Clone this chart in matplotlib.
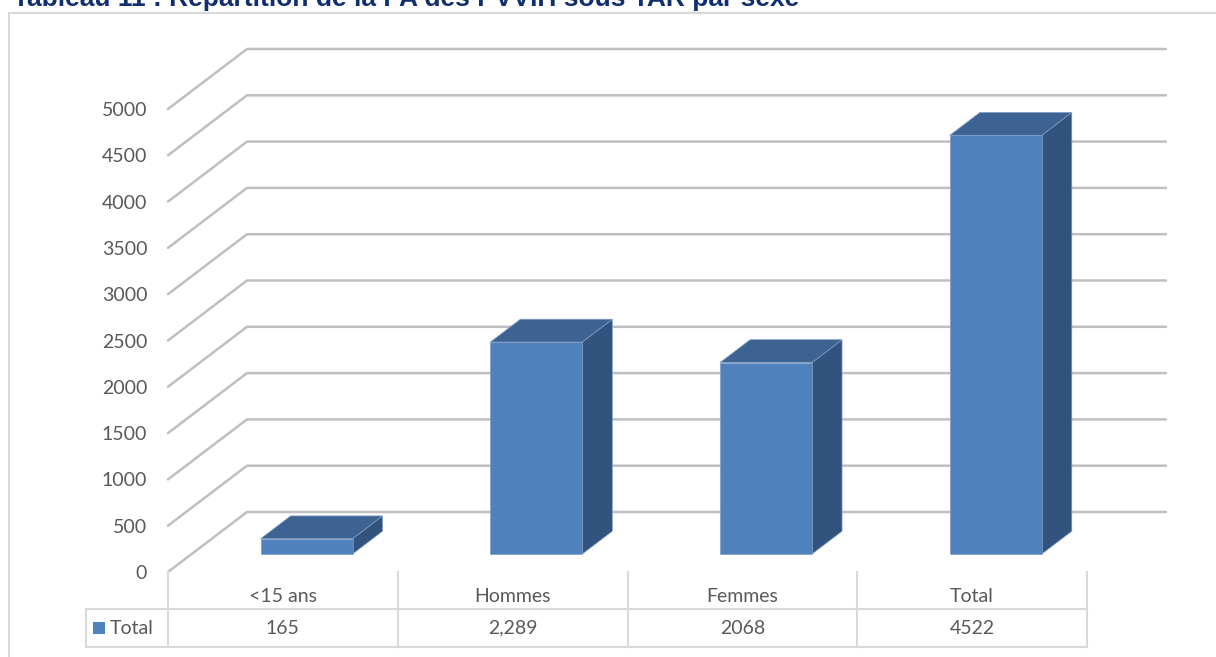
import matplotlib
matplotlib.use('Agg')
import matplotlib.pyplot as plt
from matplotlib.patches import Polygon, Rectangle
from matplotlib.transforms import blended_transform_factory

# données
categories = ['<15 ans', 'Hommes', 'Femmes', 'Total']
values = [165, 2289, 2068, 4522]
value_labels = ['165', '2,289', '2068', '4522']
y_ticks = list(range(0, 5001, 500))
series_name = 'Total'
title = 'Tableau 11 : Répartition de la PA des PVVIH sous TAR par sexe'

# couleurs
c_front = '#4f81bd'
c_top = '#3c6392'
c_side = '#32537e'
c_grid = '#bfbfbf'
c_table = '#d9d9d9'
c_text = '#595959'

W, H = 1216, 657
fig = plt.figure(figsize=(W / 100, H / 100), dpi=100)
plt.rcParams['font.family'] = ['Lato', 'DejaVu Sans']

px_cat = 229.75          # pixels par catégorie
DX = 79 / px_cat         # décalage en profondeur (catégories)
DV = 648                 # décalage en profondeur (valeurs)
D0, D1 = 0.3, 0.68       # profondeur des barres
BW = 0.2                 # demi-largeur des barres

ax = fig.add_axes([168 / W, 1 - 572 / H, (1165 - 168) / W, (572 - 49) / H])
ax.set_xlim(-0.5, -0.5 + (1165 - 168) / px_cat)
ax.set_ylim(0, 5000 + DV)
for s in ax.spines.values():
    s.set_visible(False)
ax.set_xticks([])
ax.set_yticks(y_ticks)
ax.set_yticklabels([str(v) for v in y_ticks], fontsize=14, color=c_text)
ax.tick_params(axis='y', length=0, pad=15)
ax.patch.set_alpha(0)


def P(x, v, d):
    return (x + d * DX, v + d * DV)


# quadrillage (mur du fond + diagonales)
x_left, x_right = -0.5, len(categories) - 0.5
for v in y_ticks:
    pts = [P(x_left, v, 0), P(x_left, v, 1), P(x_right, v, 1)]
    ax.plot([p[0] for p in pts], [p[1] for p in pts], color=c_grid, lw=1.8,
            solid_capstyle='round', zorder=1, clip_on=False)

# barres 3D
for i, v in enumerate(values):
    x0, x1 = i - BW, i + BW
    front = [P(x0, 0, D0), P(x1, 0, D0), P(x1, v, D0), P(x0, v, D0)]
    top = [P(x0, v, D0), P(x1, v, D0), P(x1, v, D1), P(x0, v, D1)]
    side = [P(x1, 0, D0), P(x1, 0, D1), P(x1, v, D1), P(x1, v, D0)]
    for poly, col in [(side, c_side), (top, c_top), (front, c_front)]:
        ax.add_patch(Polygon(poly, closed=True, facecolor=col, edgecolor='#7f9cc4',
                             lw=0.5, zorder=3, clip_on=False))

# tableau de données
trans = blended_transform_factory(ax.transData, fig.transFigure)


def fy(py):
    return 1 - py / H


x_leg = -0.5 - (168 - 86) / px_cat
for k in range(len(categories) + 1):
    xb = k - 0.5
    ax.plot([xb, xb], [fy(572), fy(647)], color=c_table, lw=1.5, transform=trans, clip_on=False)
ax.plot([x_leg, x_leg], [fy(609), fy(647)], color=c_table, lw=1.5, transform=trans, clip_on=False)
for py in (609, 647):
    ax.plot([x_leg, x_right], [fy(py), fy(py)], color=c_table, lw=1.5, transform=trans, clip_on=False)

for i, (cat, lab) in enumerate(zip(categories, value_labels)):
    ax.text(i, fy(596), cat, ha='center', va='center', fontsize=14, color=c_text,
            transform=trans)
    ax.text(i, fy(628), lab, ha='center', va='center', fontsize=14, color=c_text,
            transform=trans)

x_sq = -0.5 - (168 - 93) / px_cat
ax.add_patch(Rectangle((x_sq, fy(634)), 12 / px_cat, 12 / H, facecolor=c_front,
                       transform=trans, clip_on=False))
ax.text(-0.5 - (168 - 110) / px_cat, fy(628), series_name, ha='left', va='center',
        fontsize=14, color=c_text, transform=trans)

# cadre et titre (coupé en haut, comme dans l'original)
fig.patches.append(Rectangle((9 / W, -0.1), 1.2, 1 - 13 / H + 0.1, fill=False,
                             edgecolor=c_table, lw=1.5, transform=fig.transFigure))
fig.text(13 / W, 1 - 6 / H, title, ha='left', va='baseline', fontsize=19,
         fontweight='bold', color='#112f6e', family=['Liberation Sans', 'DejaVu Sans'])

fig.savefig('out.png', dpi=100)
